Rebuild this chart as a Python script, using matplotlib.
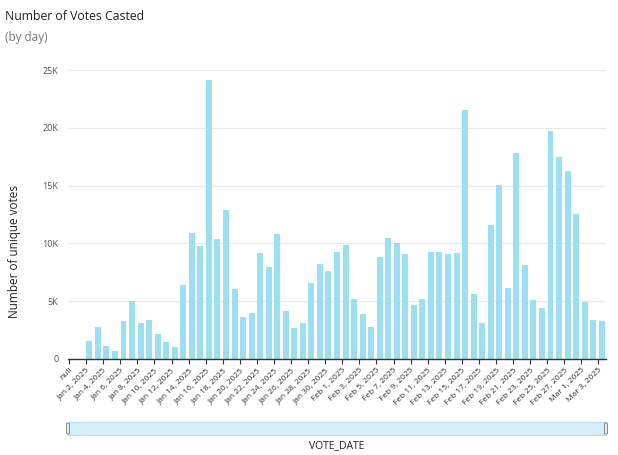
import matplotlib
matplotlib.use("Agg")
import matplotlib.pyplot as plt
import matplotlib.patches as mpatches
import numpy as np
import pandas as pd

plt.rcParams['font.family'] = ['Open Sans', 'DejaVu Sans']

# categories: null, then every day from Jan 1 to Mar 3, 2025
days = pd.date_range("2025-01-01", "2025-03-03", freq="D")
categories = ["null"] + [f"{d.strftime('%b')} {d.day}, {d.year}" for d in days]

# unique votes per day, null and Jan 1 have no bar
votes_jan = [0, 1560, 2770, 1100, 690, 3290, 5000, 3090, 3380, 2200, 1470,
             1040, 6420, 10920, 9740, 24160, 10400, 12860, 6070, 3640, 3960,
             9190, 7950, 10840, 4160, 2720, 3120, 6590, 8240, 7630, 9220]
votes_feb = [9830, 5230, 3900, 2770, 8820, 10430, 10030, 9050, 4650, 5200,
             9280, 9220, 9050, 9160, 21560, 5660, 3120, 11590, 15030, 6160,
             17860, 8150, 5120, 4420, 19710, 17460, 16240, 12510]
votes_mar = [4940, 3380, 3320]
votes = [0] + votes_jan + votes_feb + votes_mar

yticks = [0, 5000, 10000, 15000, 20000, 25000]
ytick_labels = ["0", "5K", "10K", "15K", "20K", "25K"]

W, H = 618, 455
fig = plt.figure(figsize=(W / 100, H / 100), dpi=100)
ax = fig.add_axes([68 / W, 1 - 359 / H, 538 / W, 289 / H])

x = np.arange(len(categories))
ax.bar(x, votes, width=0.7, color="#9bdff0", zorder=2)

ax.set_xlim(-0.5, len(categories) - 0.5)
ax.set_ylim(0, 25000)

ax.set_yticks(yticks)
ax.set_yticklabels(ytick_labels)
ax.tick_params(axis="y", length=0, pad=7, labelsize=6.5, labelcolor="#555555")
ax.grid(axis="y", color="#e9e9e9", linewidth=0.9, zorder=0)

# labels on every other day, marks sit on the bar's left edge like the original
tick_idx = x[::2]
ax.set_xticks(tick_idx - 0.38)
ax.set_xticklabels([categories[i] for i in tick_idx], rotation=45,
                   ha="right", rotation_mode="anchor")
ax.tick_params(axis="x", length=3.5, width=0.8, color="#333333", pad=2,
               labelsize=6, labelcolor="#333333")

for s in ["top", "right", "left"]:
    ax.spines[s].set_visible(False)
ax.spines["bottom"].set_color("#333333")
ax.spines["bottom"].set_linewidth(1)

fig.text(5 / W, 1 - 16 / H, "Number of Votes Casted", fontsize=8.8,
         color="#222222", va="center")
fig.text(5 / W, 1 - 38 / H, "(by day)", fontsize=8.5, color="#777777",
         va="center")
fig.text(15 / W, 1 - 252 / H, "Number of unique votes", rotation=90,
         fontsize=8.5, color="#222222", ha="center", va="center")

# range slider under the chart
sl = fig.add_axes([68 / W, 1 - 435 / H, 538 / W, 13 / H])
sl.set_facecolor("#d5edf7")
sl.set_xticks([])
sl.set_yticks([])
for s in sl.spines.values():
    s.set_color("#b9dcec")
    s.set_linewidth(0.8)
for hx in [68, 606]:
    fig.patches.append(mpatches.FancyBboxPatch(
        ((hx - 1.5) / W, 1 - 434 / H), 3 / W, 11 / H,
        boxstyle="round,pad=0,rounding_size=0.002",
        transform=fig.transFigure, facecolor="#e8e8e8",
        edgecolor="#8a8a8a", linewidth=0.7))

fig.text(337 / W, 1 - 446 / H, "VOTE_DATE", fontsize=7.5, color="#222222",
         ha="center", va="center")

fig.savefig("out.png", dpi=100)
